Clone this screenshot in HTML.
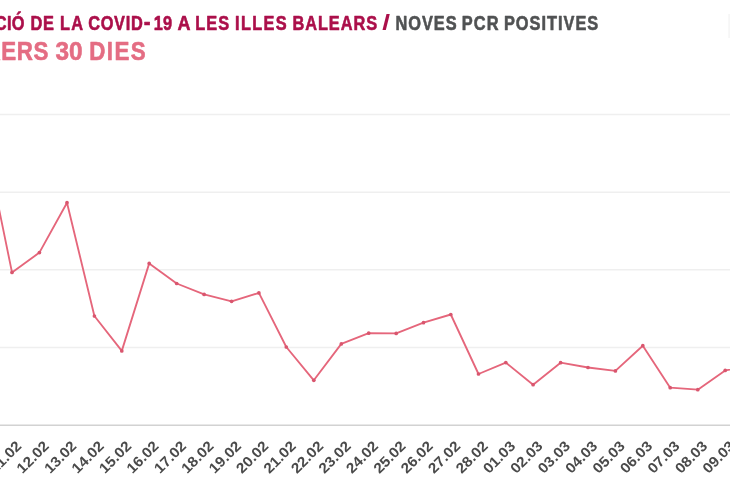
<!DOCTYPE html>
<html lang="ca">
<head>
<meta charset="utf-8">
<title>Evolució de la COVID-19 a les Illes Balears</title>
<style>
html,body{margin:0;padding:0;background:#fff;}
body{width:730px;height:500px;overflow:hidden;}
svg{display:block;will-change:transform;}
text{font-family:"Liberation Sans",sans-serif;font-weight:bold;font-kerning:none;}
</style>
</head>
<body>
<svg width="730" height="500" viewBox="0 0 730 500">
<rect x="0" y="0" width="730" height="500" fill="#ffffff"/>
<line x1="0" y1="114.5" x2="730" y2="114.5" stroke="#efefef" stroke-width="1.4"/>
<line x1="0" y1="192.2" x2="730" y2="192.2" stroke="#efefef" stroke-width="1.4"/>
<line x1="0" y1="269.8" x2="730" y2="269.8" stroke="#efefef" stroke-width="1.4"/>
<line x1="0" y1="347.5" x2="730" y2="347.5" stroke="#efefef" stroke-width="1.4"/>
<line x1="0" y1="425.2" x2="730" y2="425.2" stroke="#d2d2d2" stroke-width="1.6"/>
<polyline fill="none" stroke="#e5667b" stroke-width="1.85" stroke-linejoin="round" stroke-linecap="round" points="-15.5,138 12,272.4 39.4,252.6 67,202.7 94.4,316 121.8,350.9 149.2,263.4 176.7,283.5 204.1,294.4 231.6,301.3 258.9,292.9 286.3,347 313.8,380.3 341.3,343.9 368.7,333.2 396.2,333.4 423.5,322.7 450.8,314.5 478.5,374.0 505.8,362.6 533.1,384.7 560.6,362.7 588,367.5 615.4,370.9 642.8,345.7 670.2,387.7 697.8,389.7 725.2,370.4 752.6,366"/>
<circle cx="-15.5" cy="138" r="1.85" fill="#d9566e"/>
<circle cx="12" cy="272.4" r="1.85" fill="#d9566e"/>
<circle cx="39.4" cy="252.6" r="1.85" fill="#d9566e"/>
<circle cx="67" cy="202.7" r="1.85" fill="#d9566e"/>
<circle cx="94.4" cy="316" r="1.85" fill="#d9566e"/>
<circle cx="121.8" cy="350.9" r="1.85" fill="#d9566e"/>
<circle cx="149.2" cy="263.4" r="1.85" fill="#d9566e"/>
<circle cx="176.7" cy="283.5" r="1.85" fill="#d9566e"/>
<circle cx="204.1" cy="294.4" r="1.85" fill="#d9566e"/>
<circle cx="231.6" cy="301.3" r="1.85" fill="#d9566e"/>
<circle cx="258.9" cy="292.9" r="1.85" fill="#d9566e"/>
<circle cx="286.3" cy="347" r="1.85" fill="#d9566e"/>
<circle cx="313.8" cy="380.3" r="1.85" fill="#d9566e"/>
<circle cx="341.3" cy="343.9" r="1.85" fill="#d9566e"/>
<circle cx="368.7" cy="333.2" r="1.85" fill="#d9566e"/>
<circle cx="396.2" cy="333.4" r="1.85" fill="#d9566e"/>
<circle cx="423.5" cy="322.7" r="1.85" fill="#d9566e"/>
<circle cx="450.8" cy="314.5" r="1.85" fill="#d9566e"/>
<circle cx="478.5" cy="374.0" r="1.85" fill="#d9566e"/>
<circle cx="505.8" cy="362.6" r="1.85" fill="#d9566e"/>
<circle cx="533.1" cy="384.7" r="1.85" fill="#d9566e"/>
<circle cx="560.6" cy="362.7" r="1.85" fill="#d9566e"/>
<circle cx="588" cy="367.5" r="1.85" fill="#d9566e"/>
<circle cx="615.4" cy="370.9" r="1.85" fill="#d9566e"/>
<circle cx="642.8" cy="345.7" r="1.85" fill="#d9566e"/>
<circle cx="670.2" cy="387.7" r="1.85" fill="#d9566e"/>
<circle cx="697.8" cy="389.7" r="1.85" fill="#d9566e"/>
<circle cx="725.2" cy="370.4" r="1.85" fill="#d9566e"/>
<circle cx="752.6" cy="366" r="1.85" fill="#d9566e"/>
<rect x="728.3" y="14" width="1.7" height="24" fill="#f6f6f6"/>
<text transform="translate(-5.1,447.0) rotate(-45)" text-anchor="end" font-size="14.5" textLength="38.5" lengthAdjust="spacingAndGlyphs" fill="#4a4a4a">10.02</text>
<text transform="translate(22.4,447.0) rotate(-45)" text-anchor="end" font-size="14.5" textLength="38.5" lengthAdjust="spacingAndGlyphs" fill="#4a4a4a">11.02</text>
<text transform="translate(49.8,447.0) rotate(-45)" text-anchor="end" font-size="14.5" textLength="38.5" lengthAdjust="spacingAndGlyphs" fill="#4a4a4a">12.02</text>
<text transform="translate(77.4,447.0) rotate(-45)" text-anchor="end" font-size="14.5" textLength="38.5" lengthAdjust="spacingAndGlyphs" fill="#4a4a4a">13.02</text>
<text transform="translate(104.8,447.0) rotate(-45)" text-anchor="end" font-size="14.5" textLength="38.5" lengthAdjust="spacingAndGlyphs" fill="#4a4a4a">14.02</text>
<text transform="translate(132.2,447.0) rotate(-45)" text-anchor="end" font-size="14.5" textLength="38.5" lengthAdjust="spacingAndGlyphs" fill="#4a4a4a">15.02</text>
<text transform="translate(159.6,447.0) rotate(-45)" text-anchor="end" font-size="14.5" textLength="38.5" lengthAdjust="spacingAndGlyphs" fill="#4a4a4a">16.02</text>
<text transform="translate(187.1,447.0) rotate(-45)" text-anchor="end" font-size="14.5" textLength="38.5" lengthAdjust="spacingAndGlyphs" fill="#4a4a4a">17.02</text>
<text transform="translate(214.5,447.0) rotate(-45)" text-anchor="end" font-size="14.5" textLength="38.5" lengthAdjust="spacingAndGlyphs" fill="#4a4a4a">18.02</text>
<text transform="translate(242.0,447.0) rotate(-45)" text-anchor="end" font-size="14.5" textLength="38.5" lengthAdjust="spacingAndGlyphs" fill="#4a4a4a">19.02</text>
<text transform="translate(269.3,447.0) rotate(-45)" text-anchor="end" font-size="14.5" textLength="38.5" lengthAdjust="spacingAndGlyphs" fill="#4a4a4a">20.02</text>
<text transform="translate(296.7,447.0) rotate(-45)" text-anchor="end" font-size="14.5" textLength="38.5" lengthAdjust="spacingAndGlyphs" fill="#4a4a4a">21.02</text>
<text transform="translate(324.2,447.0) rotate(-45)" text-anchor="end" font-size="14.5" textLength="38.5" lengthAdjust="spacingAndGlyphs" fill="#4a4a4a">22.02</text>
<text transform="translate(351.7,447.0) rotate(-45)" text-anchor="end" font-size="14.5" textLength="38.5" lengthAdjust="spacingAndGlyphs" fill="#4a4a4a">23.02</text>
<text transform="translate(379.1,447.0) rotate(-45)" text-anchor="end" font-size="14.5" textLength="38.5" lengthAdjust="spacingAndGlyphs" fill="#4a4a4a">24.02</text>
<text transform="translate(406.6,447.0) rotate(-45)" text-anchor="end" font-size="14.5" textLength="38.5" lengthAdjust="spacingAndGlyphs" fill="#4a4a4a">25.02</text>
<text transform="translate(433.9,447.0) rotate(-45)" text-anchor="end" font-size="14.5" textLength="38.5" lengthAdjust="spacingAndGlyphs" fill="#4a4a4a">26.02</text>
<text transform="translate(461.2,447.0) rotate(-45)" text-anchor="end" font-size="14.5" textLength="38.5" lengthAdjust="spacingAndGlyphs" fill="#4a4a4a">27.02</text>
<text transform="translate(488.9,447.0) rotate(-45)" text-anchor="end" font-size="14.5" textLength="38.5" lengthAdjust="spacingAndGlyphs" fill="#4a4a4a">28.02</text>
<text transform="translate(516.2,447.0) rotate(-45)" text-anchor="end" font-size="14.5" textLength="38.5" lengthAdjust="spacingAndGlyphs" fill="#4a4a4a">01.03</text>
<text transform="translate(543.5,447.0) rotate(-45)" text-anchor="end" font-size="14.5" textLength="38.5" lengthAdjust="spacingAndGlyphs" fill="#4a4a4a">02.03</text>
<text transform="translate(571.0,447.0) rotate(-45)" text-anchor="end" font-size="14.5" textLength="38.5" lengthAdjust="spacingAndGlyphs" fill="#4a4a4a">03.03</text>
<text transform="translate(598.4,447.0) rotate(-45)" text-anchor="end" font-size="14.5" textLength="38.5" lengthAdjust="spacingAndGlyphs" fill="#4a4a4a">04.03</text>
<text transform="translate(625.8,447.0) rotate(-45)" text-anchor="end" font-size="14.5" textLength="38.5" lengthAdjust="spacingAndGlyphs" fill="#4a4a4a">05.03</text>
<text transform="translate(653.2,447.0) rotate(-45)" text-anchor="end" font-size="14.5" textLength="38.5" lengthAdjust="spacingAndGlyphs" fill="#4a4a4a">06.03</text>
<text transform="translate(680.6,447.0) rotate(-45)" text-anchor="end" font-size="14.5" textLength="38.5" lengthAdjust="spacingAndGlyphs" fill="#4a4a4a">07.03</text>
<text transform="translate(708.2,447.0) rotate(-45)" text-anchor="end" font-size="14.5" textLength="38.5" lengthAdjust="spacingAndGlyphs" fill="#4a4a4a">08.03</text>
<text transform="translate(735.6,447.0) rotate(-45)" text-anchor="end" font-size="14.5" textLength="38.5" lengthAdjust="spacingAndGlyphs" fill="#4a4a4a">09.03</text>
<text transform="translate(763.0,447.0) rotate(-45)" text-anchor="end" font-size="14.5" textLength="38.5" lengthAdjust="spacingAndGlyphs" fill="#4a4a4a">10.03</text>
<text transform="translate(-63.56 29.5) scale(0.8300 1)" font-size="19.7" fill="#ab0f4a" stroke="#ab0f4a" stroke-width="0.60" stroke-linejoin="round" letter-spacing="0.473">EVOLUCIÓ</text>
<text transform="translate(30.52 29.5) scale(0.8300 1)" font-size="19.7" fill="#ab0f4a" stroke="#ab0f4a" stroke-width="0.60" stroke-linejoin="round" letter-spacing="0.967">DE</text>
<text transform="translate(60.02 29.5) scale(0.8300 1)" font-size="19.7" fill="#ab0f4a" stroke="#ab0f4a" stroke-width="0.60" stroke-linejoin="round" letter-spacing="1.459">LA</text>
<text transform="translate(177.57 29.5) scale(0.9140 1)" font-size="19.7" fill="#ab0f4a" stroke="#ab0f4a" stroke-width="0.60" stroke-linejoin="round">A</text>
<text transform="translate(195.22 29.5) scale(0.8300 1)" font-size="19.7" fill="#ab0f4a" stroke="#ab0f4a" stroke-width="0.60" stroke-linejoin="round" letter-spacing="1.275">LES</text>
<text transform="translate(235.02 29.5) scale(0.8300 1)" font-size="19.7" fill="#ab0f4a" stroke="#ab0f4a" stroke-width="0.60" stroke-linejoin="round" letter-spacing="1.622">ILLES</text>
<text transform="translate(292.42 29.5) scale(0.8300 1)" font-size="19.7" fill="#ab0f4a" stroke="#ab0f4a" stroke-width="0.60" stroke-linejoin="round" letter-spacing="1.141">BALEARS</text>
<text transform="translate(88.13 29.5) scale(0.8300 1)" font-size="19.7" fill="#ab0f4a" stroke="#ab0f4a" stroke-width="0.60" stroke-linejoin="round" letter-spacing="0.892">COVID<tspan dx="0.11" font-size="24.5">-</tspan><tspan dx="2.97">1</tspan><tspan dx="-0.69">9</tspan></text>
<text transform="translate(382.35 30.3) scale(1.2314 1)" font-size="22.8" fill="#ab0f4a">/</text>
<text transform="translate(395.42 29.5) scale(0.8300 1)" font-size="19.7" fill="#505253" stroke="#505253" stroke-width="0.60" stroke-linejoin="round" letter-spacing="1.196">NOVES</text>
<text transform="translate(461.72 29.5) scale(0.8300 1)" font-size="19.7" fill="#505253" stroke="#505253" stroke-width="0.60" stroke-linejoin="round" letter-spacing="1.377">PCR</text>
<text transform="translate(503.92 29.5) scale(0.8300 1)" font-size="19.7" fill="#505253" stroke="#505253" stroke-width="0.60" stroke-linejoin="round" letter-spacing="1.204">POSITIVES</text>
<text transform="translate(-65.92 60.2) scale(0.8800 1)" font-size="25.4" fill="#e46d83" stroke="#e46d83" stroke-width="0.60" stroke-linejoin="round" letter-spacing="0.731">DARRERS</text>
<text transform="translate(55.46 60.2) scale(0.9597 1)" font-size="25.4" fill="#e46d83" stroke="#e46d83" stroke-width="0.60" stroke-linejoin="round">30</text>
<text transform="translate(89.22 60.2) scale(0.8800 1)" font-size="25.4" fill="#e46d83" stroke="#e46d83" stroke-width="0.60" stroke-linejoin="round" letter-spacing="1.620">DIES</text>
</svg>
</body>
</html>
